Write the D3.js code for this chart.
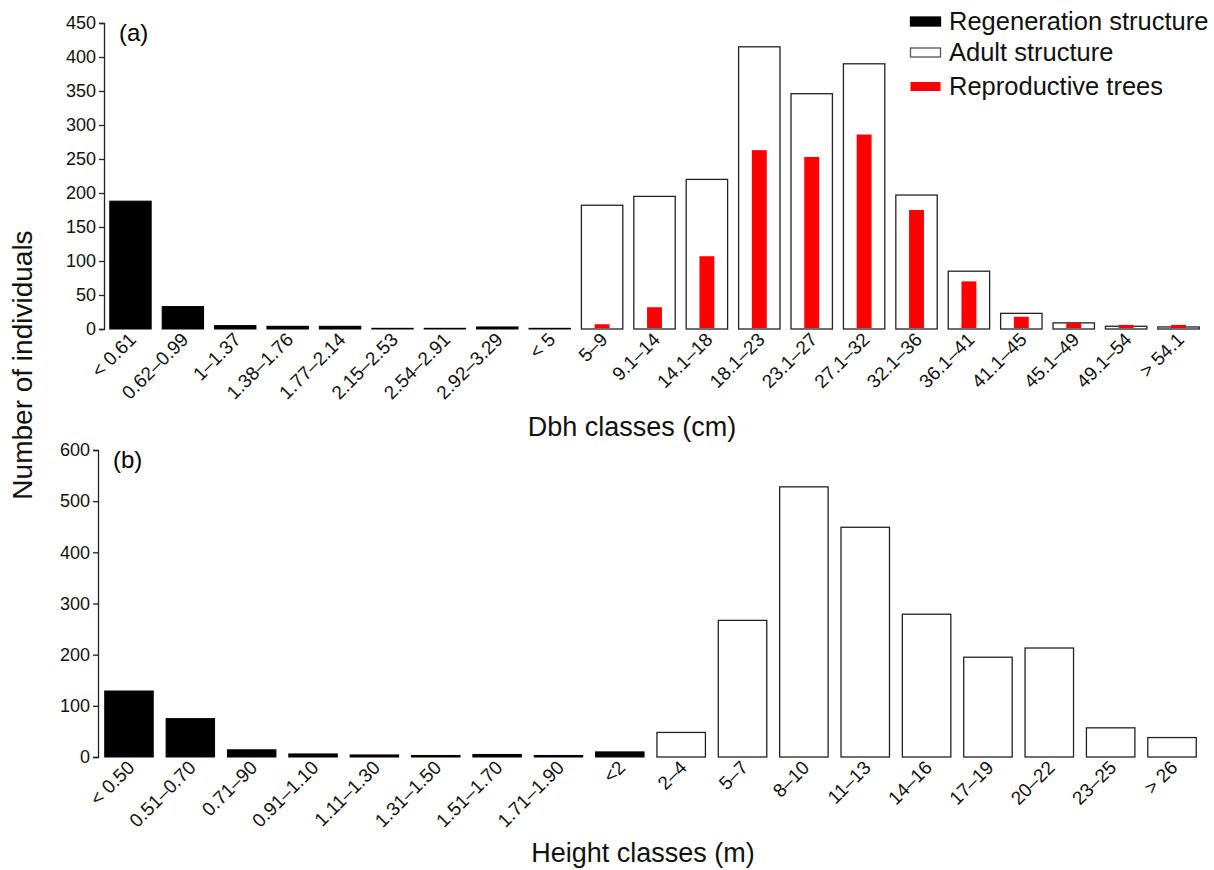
<!DOCTYPE html>
<html>
<head>
<meta charset="utf-8">
<script src="https://cdn.jsdelivr.net/npm/d3@7"></script>
<style>
  body { margin: 0; background: #fff; }
  svg { font-family: "Liberation Sans", Arial, sans-serif; }
  .axis path, .axis line { stroke: #222; stroke-width: 1.3; }
  .axis text { fill: #111; font-family: "Liberation Sans", Arial, sans-serif; }
</style>
</head>
<body>
<svg id="chart"></svg>
<script>
// (a) diameter classes
const dbhRegenClasses = ['< 0.61', '0.62–0.99', '1–1.37', '1.38–1.76', '1.77–2.14', '2.15–2.53', '2.54–2.91', '2.92–3.29', '< 5'];
const dbhRegenValues = [188, 33, 5, 4, 4, 1, 1, 3, 1];
const dbhAdultClasses = ['5–9', '9.1–14', '14.1–18', '18.1–23', '23.1–27', '27.1–32', '32.1–36', '36.1–41', '41.1–45', '45.1–49', '49.1–54', '> 54.1'];
const dbhAdultValues = [182, 195, 220, 415, 346, 390, 197, 85, 23, 9, 4, 3];
const dbhReproValues = [7, 32, 107, 263, 253, 286, 175, 70, 18, 9, 6, 6];
const dbhTicks = [0, 50, 100, 150, 200, 250, 300, 350, 400, 450];

// (b) height classes
const heightRegenClasses = ['< 0.50', '0.51–0.70', '0.71–90', '0.91–1.10', '1.11–1.30', '1.31–1.50', '1.51–1.70', '1.71–1.90', '<2'];
const heightRegenValues = [129, 75, 14, 6, 4, 3, 5, 3, 10];
const heightAdultClasses = ['2–4', '5–7', '8–10', '11–13', '14–16', '17–19', '20–22', '23–25', '> 26'];
const heightAdultValues = [48, 267, 528, 449, 279, 195, 213, 57, 38];
const heightTicks = [0, 100, 200, 300, 400, 500, 600];

const legendLabels = ['Regeneration structure', 'Adult structure', 'Reproductive trees'];

const svg = d3.select('#chart').attr('width', 1214).attr('height', 870);

function drawPanel(cfg) {
  const regen = cfg.regenClasses.map((k, i) => ({ key: k, value: cfg.regenValues[i] }));
  const adult = cfg.adultClasses.map((k, i) => ({ key: k, value: cfg.adultValues[i], repro: cfg.reproValues ? cfg.reproValues[i] : null }));
  const all = cfg.regenClasses.concat(cfg.adultClasses);

  const x = d3.scaleBand().domain(all).range([cfg.left, cfg.right]).paddingInner(0.21).paddingOuter(0.11);
  const y = d3.scaleLinear().domain([0, cfg.max]).range([cfg.bottom, cfg.top]);

  const g = svg.append('g');

  g.selectAll('.regen').data(regen).join('rect')
    .attr('class', 'regen')
    .attr('x', d => x(d.key))
    .attr('width', x.bandwidth())
    .attr('y', d => y(d.value))
    .attr('height', d => y(0) - y(d.value))
    .attr('fill', '#000')
    .attr('stroke', '#000')
    .attr('stroke-width', 1);

  g.selectAll('.adult').data(adult).join('rect')
    .attr('class', 'adult')
    .attr('x', d => x(d.key))
    .attr('width', x.bandwidth())
    .attr('y', d => y(d.value))
    .attr('height', d => y(0) - y(d.value))
    .attr('fill', '#fff')
    .attr('stroke', '#222')
    .attr('stroke-width', 1.3);

  if (cfg.reproValues) {
    const rw = x.bandwidth() * 0.36;
    g.selectAll('.repro').data(adult).join('rect')
      .attr('class', 'repro')
      .attr('x', d => x(d.key) + (x.bandwidth() - rw) / 2)
      .attr('width', rw)
      .attr('y', d => y(d.repro))
      .attr('height', d => y(0) - y(d.repro) - 1)
      .attr('fill', '#ff0000');
  }

  const yAxis = d3.axisLeft(y).tickValues(cfg.ticks).tickSizeOuter(0).tickSize(5).tickPadding(3);
  g.append('g').attr('class', 'axis')
    .attr('transform', `translate(${cfg.left},0)`)
    .call(yAxis)
    .selectAll('text').style('font-size', '18px');

  // rotated class labels, no x axis line
  g.selectAll('.xlab').data(all).join('text')
    .attr('class', 'xlab')
    .attr('transform', d => `translate(${x(d) + x.bandwidth() / 2 + 2},${cfg.bottom + 7}) rotate(-45)`)
    .attr('text-anchor', 'end')
    .attr('dy', '0.35em')
    .style('font-size', '19px')
    .attr('fill', '#111')
    .text(d => d);

  g.append('text')
    .attr('x', cfg.left + 15).attr('y', cfg.top + 18)
    .style('font-size', '24px')
    .text(cfg.tag);

  g.append('text')
    .attr('x', cfg.titleX).attr('y', cfg.titleY)
    .attr('text-anchor', 'middle')
    .style('font-size', '27px')
    .attr('fill', '#111')
    .text(cfg.title);
}

drawPanel({
  regenClasses: dbhRegenClasses, regenValues: dbhRegenValues,
  adultClasses: dbhAdultClasses, adultValues: dbhAdultValues, reproValues: dbhReproValues,
  ticks: dbhTicks, max: 450,
  left: 104, right: 1205, top: 23, bottom: 329,
  tag: '(a)', title: 'Dbh classes (cm)', titleX: 632, titleY: 436
});

drawPanel({
  regenClasses: heightRegenClasses, regenValues: heightRegenValues,
  adultClasses: heightAdultClasses, adultValues: heightAdultValues, reproValues: null,
  ticks: heightTicks, max: 600,
  left: 98, right: 1203, top: 450, bottom: 757,
  tag: '(b)', title: 'Height classes (m)', titleX: 643, titleY: 862
});

// shared y title
svg.append('text')
  .attr('transform', 'translate(32,365) rotate(-90)')
  .attr('text-anchor', 'middle')
  .style('font-size', '28px')
  .attr('fill', '#111')
  .text('Number of individuals');

// legend
const legend = svg.append('g').attr('transform', 'translate(910,0)');
const swatches = [
  { fill: '#000', stroke: '#000', y: 17 },
  { fill: '#fff', stroke: '#555', y: 48 },
  { fill: '#ff0000', stroke: 'none', y: 82 }
];
legend.selectAll('rect').data(swatches).join('rect')
  .attr('x', 0.5).attr('y', d => d.y).attr('width', 30).attr('height', 9)
  .attr('fill', d => d.fill).attr('stroke', d => d.stroke).attr('stroke-width', 1.3);
legend.selectAll('text').data(legendLabels).join('text')
  .attr('x', 39).attr('y', (d, i) => swatches[i].y + 13)
  .style('font-size', '25.5px')
  .attr('fill', '#111')
  .text(d => d);
</script>
</body>
</html>
